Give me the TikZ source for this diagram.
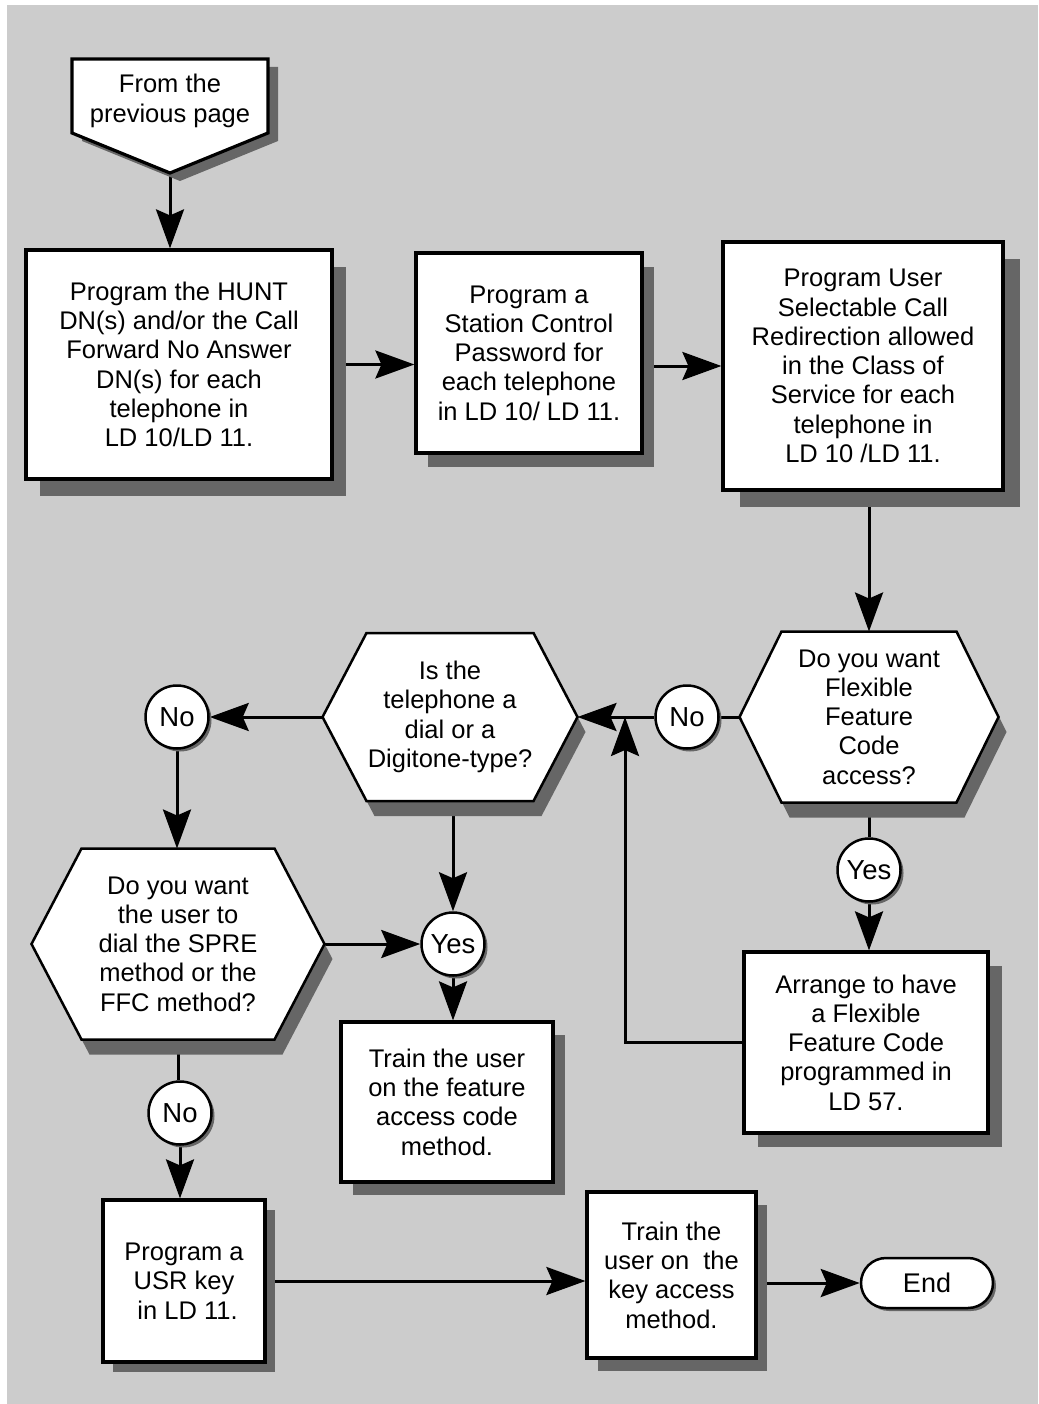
\documentclass[tikz,border=0pt]{standalone}
\usepackage{fontspec}
\setmainfont{Liberation Sans}
\usetikzlibrary{arrows.meta,shadows,shapes.misc,calc}
\definecolor{bggray}{HTML}{CCCCCC}
\definecolor{shgray}{HTML}{666666}
\pgfdeclarelayer{bg}
\pgfdeclarelayer{conn}
\pgfsetlayers{bg,conn,main}
\newcommand\hexnode[7]{%
  \fill[shgray,shift={(8,15)}] ({#2-#4},#3) -- ({#2-#4+#6},{#3-#5}) -- ({#2+#4-#6},{#3-#5}) -- ({#2+#4},#3) -- ({#2+#4-#6},{#3+#5}) -- ({#2-#4+#6},{#3+#5}) -- cycle;
  \draw[line width=2.5pt,line join=miter,fill=white] ({#2-#4},#3) -- ({#2-#4+#6},{#3-#5}) -- ({#2+#4-#6},{#3-#5}) -- ({#2+#4},#3) -- ({#2+#4-#6},{#3+#5}) -- ({#2-#4+#6},{#3+#5}) -- cycle;
  \node[txt] (#1) at (#2,#3) {#7};
  \coordinate (#1-l) at ({#2-#4},#3);
  \coordinate (#1-r) at ({#2+#4},#3);
  \coordinate (#1-t) at (#2,{#3-#5});
  \coordinate (#1-b) at (#2,{#3+#5});
}
\begin{document}
\begin{tikzpicture}[x=1pt,y=-1pt,
  txt/.style={align=center,font=\fontsize{25.5}{29.3}\selectfont,inner sep=0pt},
  shd/.style 2 args={drop shadow={shadow xshift=#1pt,shadow yshift=-#2pt,opacity=1,fill=shgray}},
  box/.style={draw,line width=3.2pt,line join=miter,fill=white,align=center,
    font=\fontsize{25.5}{29.3}\selectfont,inner sep=0pt},
  circ/.style={circle,draw,line width=2.5pt,fill=white,minimum size=63pt,inner sep=0pt,
    font=\fontsize{27.5}{30}\selectfont,shd={3}{3}},
  ln/.style={line width=3pt},
  arr/.style={line width=3pt,-{Stealth[length=39pt,width=28pt,inset=6pt]}}]
\useasboundingbox (0,0) rectangle (1038,1404);
\begin{pgfonlayer}{bg}
\fill[bggray] (7,5) rectangle (1038,1404);
\end{pgfonlayer}

% start pentagon
\fill[shgray,shift={(10,8)}] (72,59) -- (268,59) -- (268,133) -- (170,173) -- (72,133) -- cycle;
\draw[line width=3.2pt,line join=miter,fill=white] (72,59) -- (268,59) -- (268,133) -- (170,173) -- (72,133) -- cycle;
\node[txt] (pent) at (170,101) {From the\\previous page};
\coordinate (ptip) at (170,173);

% top row boxes
\node[box,shd={14}{17},minimum width=306pt,minimum height=229pt] (box1) at (179,364.5)
  {Program the HUNT\\DN(s) and/or the Call\\Forward No Answer\\DN(s) for each\\telephone in\\LD 10/LD 11.};
\node[box,shd={12}{14},minimum width=226pt,minimum height=200pt] (box2) at (529,353)
  {Program a\\Station Control\\Password for\\each telephone\\in LD 10/ LD 11.};
\node[box,shd={17}{17},minimum width=280pt,minimum height=248pt] (box3) at (863,366)
  {Program User\\Selectable Call\\Redirection allowed\\in the Class of\\Service for each\\telephone in\\LD 10 /LD 11.};

% decisions
\hexnode{h1}{869}{717}{129.5}{85.5}{42}{Do you want\\Flexible\\Feature\\Code\\access?}
\hexnode{h2}{450}{717}{127.5}{84}{44}{Is the\\telephone a\\dial or a\\Digitone-type?}
\hexnode{h3}{178}{944}{146.5}{95.5}{50}{Do you want\\the user to\\dial the SPRE\\method or the\\FFC method?}

% circles
\node[circ] (noR) at (687,717) {No};
\node[circ] (noL) at (177,717) {No};
\node[circ] (yesM) at (453,944) {Yes};
\node[circ] (yesR) at (869,870) {Yes};
\node[circ] (noB) at (180,1113) {No};

% lower boxes
\node[box,shd={14}{14},minimum width=244pt,minimum height=181pt] (arrange) at (866,1042.5)
  {Arrange to have\\a Flexible\\Feature Code\\programmed in\\LD 57.};
\node[box,shd={12}{13},minimum width=212pt,minimum height=160pt] (train1) at (447,1102)
  {Train the user\\on the feature\\access code\\method.};
\node[box,shd={10}{10},minimum width=162pt,minimum height=162pt] (usr) at (184,1281)
  {Program a\\USR key\\\ in LD 11.};
\node[box,shd={11}{13},minimum width=169pt,minimum height=166pt] (train2) at (671.5,1275)
  {Train the\\user on\ \ the\\key access\\method.};
\node[rounded rectangle,draw,line width=2.5pt,fill=white,minimum width=132pt,minimum height=50pt,
  inner sep=0pt,font=\fontsize{27}{30}\selectfont,shd={3}{3}] (end) at (927,1283) {End};
\coordinate (m) at (625,717);

% connectors
\begin{pgfonlayer}{conn}
\draw[arr] (ptip) -- (ptip |- box1.north);
\draw[arr] (box1.east) -- (box1.east -| box2.west);
\draw[arr] (box2.east |- box3.west) -- (box3.west);
\draw[arr] (box3.south -| h1-t) -- (h1-t);
\draw[ln] (h1-l) -- (noR.east);
\draw[arr] (noR.west) -- (h2-r);
\draw[arr] (arrange.west) -| (m);
\draw[arr] (h2-l) -- (noL.east);
\draw[arr] (noL.south) -- (noL.south |- h3-t);
\draw[arr] (h3-r) -- (yesM.west);
\draw[arr] (yesM.north |- h2-b) -- (yesM.north);
\draw[arr] (yesM.south) -- (yesM.south |- train1.north);
\draw[ln] (h3-b) -- (h3-b |- noB.north);
\draw[arr] (noB.south) -- (noB.south |- usr.north);
\draw[arr] (usr.east) -- (usr.east -| train2.west);
\draw[arr] (train2.east |- end.west) -- (end.west);
\draw[ln] (h1-b) -- (yesR.north);
\draw[arr] (yesR.south) -- (yesR.south |- arrange.north);
\end{pgfonlayer}
\end{tikzpicture}
\end{document}
